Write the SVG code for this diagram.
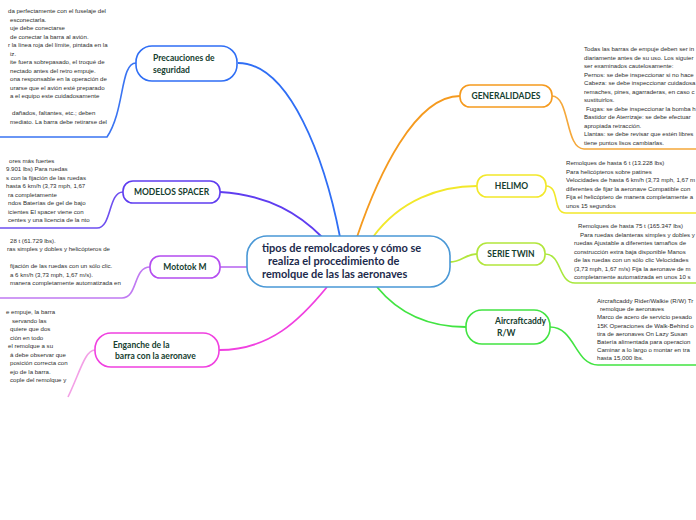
<svg xmlns="http://www.w3.org/2000/svg" width="696" height="520" viewBox="0 0 696 520">
<style>
.t{font-family:"Liberation Sans",Arial,sans-serif;font-size:6.1px;fill:#2e2e2e}
.n{font-family:Lato,"Open Sans",sans-serif;font-size:8.5px;font-weight:bold;fill:#15402f}
.c{font-family:Lato,"Open Sans",sans-serif;font-size:11px;font-weight:bold;fill:#1c2a4c}
.box{fill:#fff;stroke-width:1.6}
.ln{fill:none;stroke-width:1.8}
.ul{fill:none;stroke-width:1.6}
</style>
<rect width="696" height="520" fill="#fff"/>
<g id="connectors">
<path class="ln" stroke="#2f6ef5" d="M340 237 C325 160 290 63 238 63"/>
<path class="ln" stroke="#5f3df0" d="M220 192 C270 195 300 215 322 237"/>
<path class="ln" stroke="#c17cf2" d="M220 267 L247 267"/>
<path class="ln" stroke="#f040e0" d="M219 350 C270 350 300 320 327 287"/>
<path class="ln" stroke="#f59a1e" d="M357 237 C378 175 415 96 460 96"/>
<path class="ln" stroke="#f2e82a" d="M373 237 C400 200 440 186 477 186"/>
<path class="ln" stroke="#b2e63c" d="M450 262 C462 262 465 254 477 254"/>
<path class="ln" stroke="#42e442" d="M377 287 C400 315 430 327 466 327"/>
<path class="ul" stroke="#3a74f2" d="M136 63 C120 63 125 110 107 137 L0 137"/>
<path class="ul" stroke="#6e4ff0" d="M123 192 C108 192 112 228 97 228 L0 228"/>
<path class="ul" stroke="#c07af2" d="M150 267 C133 267 138 298 122 298 L0 298"/>
<path class="ul" stroke="#f3a0e6" d="M95 350 C85 350 80 372 68 397"/>
<path class="ul" stroke="#f5a83a" d="M552 96 C570 96 565 149 584 149 L696 149"/>
<path class="ul" stroke="#f2e82a" d="M546 186 C560 186 552 213 566 213 L696 213"/>
<path class="ul" stroke="#a8e83c" d="M545 254 C562 254 558 283 575 283 L696 283"/>
<path class="ul" stroke="#42e442" d="M550 327 C575 327 575 365 598 365 L696 365"/>
</g>
<g id="central">
<rect class="box" x="247" y="236" width="203" height="51" rx="20" stroke="#4a98d6"/>
<text class="c" x="262" y="252">tipos de remolcadores y cómo se</text>
<text class="c" x="268" y="265">realiza el procedimiento de</text>
<text class="c" x="262" y="278">remolque de las las aeronaves</text>
</g>
<g id="precauciones">
<rect class="box" x="136" y="46" width="101" height="35" rx="16" stroke="#2f6ef5"/>
<text class="n" x="153" y="61">Precauciones de</text>
<text class="n" x="153" y="73">seguridad</text>
</g>
<g id="precauciones-text">
<text class="t" x="8" y="13">da perfectamente con el fuselaje del</text>
<text class="t" x="10" y="21.5">esconectarla.</text>
<text class="t" x="10" y="30">uje debe conectarse</text>
<text class="t" x="10" y="38.5">de conectar la barra al avión.</text>
<text class="t" x="8" y="47">r la línea roja del límite, pintada en la</text>
<text class="t" x="10" y="55.5">iz.</text>
<text class="t" x="10" y="64">ite fuera sobrepasado, el troqué de</text>
<text class="t" x="10" y="72.5">nectado antes del retro empuje.</text>
<text class="t" x="10" y="81">ona responsable en la operación de</text>
<text class="t" x="10" y="89.5">urarse que el avión esté preparado</text>
<text class="t" x="10" y="98">a el equipo este cuidadosamente</text>
<text class="t" x="12" y="115">dañados, faltantes, etc.; deben</text>
<text class="t" x="10" y="123.5">mediato. La barra debe retirarse del</text>
</g>
<g id="modelos-spacer">
<rect class="box" x="123" y="181" width="97" height="22" rx="10" stroke="#5f3df0"/>
<text class="n" x="171.5" y="195" text-anchor="middle">MODELOS SPACER</text>
</g>
<g id="modelos-text">
<text class="t" x="9" y="162.5">ores más fuertes</text>
<text class="t" x="6" y="171">9.901 lbs) Para ruedas</text>
<text class="t" x="6" y="179.5">s con la fijación de las ruedas</text>
<text class="t" x="6" y="188">hasta 6 km/h (3,73 mph, 1,67</text>
<text class="t" x="8" y="196.5">ra completamente</text>
<text class="t" x="8" y="205">ndos Baterías de gel de bajo</text>
<text class="t" x="8" y="213.5">icientes El spacer viene con</text>
<text class="t" x="8" y="222">centes y una licencia de la nto</text>
</g>
<g id="mototok">
<rect class="box" x="150" y="256" width="70" height="22" rx="10" stroke="#b44cf0"/>
<text class="n" x="185" y="270" text-anchor="middle">Mototok M</text>
</g>
<g id="mototok-text">
<text class="t" x="10" y="242.5">28 t (61.729 lbs).</text>
<text class="t" x="7" y="251">ras simples y dobles y helicópteros de</text>
<text class="t" x="10" y="268">fijación de las ruedas con un sólo clic.</text>
<text class="t" x="10" y="276.5">a 6 km/h (3,73 mph, 1,67 m/s).</text>
<text class="t" x="10" y="285">manera completamente automatizada en</text>
</g>
<g id="enganche">
<rect class="box" x="95" y="333" width="124" height="34" rx="16" stroke="#f040e0"/>
<text class="n" x="113" y="348">Enganche de la</text>
<text class="n" x="115" y="359">barra con la aeronave</text>
</g>
<g id="enganche-text">
<text class="t" x="6" y="314">e empuje, la barra</text>
<text class="t" x="12" y="322.5">servando las</text>
<text class="t" x="10" y="331">quiere que dos</text>
<text class="t" x="10" y="339.5">ción en todo</text>
<text class="t" x="8" y="348">el remolque a su</text>
<text class="t" x="10" y="356.5">á debe observar que</text>
<text class="t" x="10" y="365">posición correcta con</text>
<text class="t" x="10" y="373.5">ejo de la barra.</text>
<text class="t" x="10" y="382">cople del remolque y</text>
</g>
<g id="generalidades">
<rect class="box" x="460" y="85" width="92" height="22" rx="10" stroke="#f59a1e"/>
<text class="n" x="506" y="99" text-anchor="middle">GENERALIDADES</text>
</g>
<g id="generalidades-text">
<text class="t" x="584" y="51">Todas las barras de empuje deben ser in</text>
<text class="t" x="584" y="59.5">diariamente antes de su uso. Los siguier</text>
<text class="t" x="584" y="68">ser examinados cautelosamente:</text>
<text class="t" x="584" y="76.5">Pernos: se debe inspeccionar si no hace</text>
<text class="t" x="584" y="85">Cabeza: se debe inspeccionar cuidadosa</text>
<text class="t" x="584" y="93.5">remaches, pines, agarraderas, en caso c</text>
<text class="t" x="584" y="102">sustituirlos.</text>
<text class="t" x="586" y="110.5">Fugas: se debe inspeccionar la bomba h</text>
<text class="t" x="584" y="119">Bastidor de Aterrizaje: se debe efectuar</text>
<text class="t" x="584" y="127.5">apropiada retracción.</text>
<text class="t" x="584" y="136">Llantas: se debe revisar que estén libres</text>
<text class="t" x="584" y="144.5">tiene puntos lisos cambiarlas.</text>
</g>
<g id="helimo">
<rect class="box" x="477" y="175" width="69" height="22" rx="10" stroke="#f2e82a"/>
<text class="n" x="511.5" y="189" text-anchor="middle">HELIMO</text>
</g>
<g id="helimo-text">
<text class="t" x="566" y="165">Remolques de hasta 6 t (13.228 lbs)</text>
<text class="t" x="566" y="173.5">Para helicópteros sobre patines</text>
<text class="t" x="566" y="182">Velocidades de hasta 6 km/h (3,73 mph, 1,67 m</text>
<text class="t" x="566" y="190.5">diferentes de fijar la aeronave Compatible con</text>
<text class="t" x="566" y="199">Fija el helicóptero de manera completamente a</text>
<text class="t" x="566" y="207.5">unos 15 segundos</text>
</g>
<g id="serie-twin">
<rect class="box" x="477" y="243" width="68" height="22" rx="10" stroke="#b2e63c"/>
<text class="n" x="511" y="257" text-anchor="middle">SERIE TWIN</text>
</g>
<g id="serie-twin-text">
<text class="t" x="578" y="228">Remolques de hasta 75 t (165.347 lbs)</text>
<text class="t" x="580" y="236.5">Para ruedas delanteras simples y dobles y</text>
<text class="t" x="574" y="245">ruedas Ajustable a diferentes tamaños de</text>
<text class="t" x="574" y="253.5">construcción extra baja disponible Manos</text>
<text class="t" x="574" y="262">de las ruedas con un sólo clic Velocidades</text>
<text class="t" x="574" y="270.5">(3,73 mph, 1,67 m/s) Fija la aeronave de m</text>
<text class="t" x="574" y="279">completamente automatizada en unos 10 s</text>
</g>
<g id="aircraftcaddy">
<rect class="box" x="466" y="310" width="84" height="34" rx="16" stroke="#42e442"/>
<text class="n" x="495" y="324">Aircraftcaddy</text>
<text class="n" x="497" y="336">R/W</text>
</g>
<g id="aircraftcaddy-text">
<text class="t" x="597" y="303">Aircraftcaddy Rider/Walkie (R/W) Tr</text>
<text class="t" x="600" y="311.2">remolque de aeronaves</text>
<text class="t" x="597" y="319.4">Marco de acero de servicio pesado</text>
<text class="t" x="597" y="327.6">15K Operaciones de Walk-Behind o</text>
<text class="t" x="597" y="335.8">tira de aeronaves On Lazy Susan</text>
<text class="t" x="597" y="344">Batería alimentada para operacion</text>
<text class="t" x="597" y="352.2">Caminar a lo largo o montar en tra</text>
<text class="t" x="597" y="360.4">hasta 15,000 lbs.</text>
</g>
</svg>
